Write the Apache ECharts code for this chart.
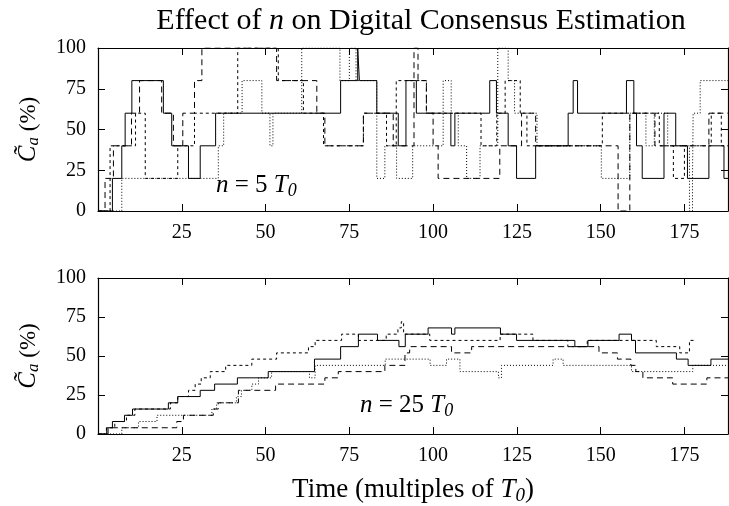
<!DOCTYPE html>
<html>
<head>
<meta charset="utf-8">
<script src="https://cdn.jsdelivr.net/npm/echarts@6/dist/echarts.min.js"></script>
<style>
  html, body { margin: 0; padding: 0; background: #fff; }
  #chart { width: 729px; height: 506px; }
</style>
</head>
<body>
<div id="chart"></div>
<script>
// Consensus estimate over time, n = 5 T0 (top) and n = 25 T0 (bottom)
const xTicks = [25, 50, 75, 100, 125, 150, 175];
const yTicks = [0, 25, 50, 75, 100];

// n = 5 T0
const topSolid = [[0,0],[4.3,20],[7.1,40],[8.1,60],[10.1,80],[19.5,60],[22,40],[27,20],[30.5,40],[35.1,60],[72.4,80],[77.5,100],[78,80],[83.2,60],[89.6,40],[91.9,80],[95,60],[105.3,40],[106.5,60],[116.9,80],[118.9,60],[122.4,40],[124.9,20],[130.6,40],[140.3,60],[141.8,80],[143.1,60],[157.7,80],[159.9,60],[160.7,40],[162.4,20],[168.9,60],[172.4,40],[175.9,20],[182.3,40],[186.8,20],[188,20]];
const topLongDash = [[0,0],[2.1,20],[4.6,40],[10,60],[12.4,80],[19,60],[22.5,40],[25.3,60],[28.8,80],[31,100],[53.3,80],[65.3,60],[67.7,40],[79.2,60],[88.1,40],[94.3,100],[95.5,80],[98,60],[100,40],[101.5,20],[119.9,40],[126.4,60],[130.6,40],[155.2,0],[158.7,60],[166.2,40],[182.3,60],[188,60]];
const topShortDash = [[0,0],[3.6,40],[11.2,60],[13,60],[14.1,20],[22.3,20],[23.8,40],[28.8,60],[41.7,100],[53.8,80],[61.3,60],[67.3,40],[79.2,60],[86.1,40],[89,80],[95.5,80],[98,60],[114.3,40],[119,60],[121.5,80],[126,60],[128,40],[150.5,60],[165,60],[167.5,40],[171.7,20],[175,40],[183,60],[186,40],[188,40]];
const topDotted = [[0,0],[7.1,20],[35.9,40],[37.5,60],[43,80],[48.9,60],[51.3,40],[52.2,60],[60.8,100],[72.2,80],[75,100],[77,80],[83.2,20],[85.6,40],[89.1,20],[93.9,40],[103,80],[105.4,60],[107.5,40],[110,20],[114,40],[119.3,100],[122.4,80],[124.3,60],[131,40],[150.2,20],[158.7,60],[163.5,40],[166,60],[170,40],[176.5,0],[177.4,20],[177.6,60],[179.7,80],[188,80]];

// n = 25 T0
const botSolid = [[0,0],[2.6,4],[4.3,8],[7.9,12],[10.3,16],[21,20],[23.8,24],[30.5,28],[34.8,32],[41.6,36],[50.8,40],[64.6,48],[72.4,56],[77.7,64],[83.4,60],[89.8,56],[91.7,64],[98.5,68],[105.5,64],[106.5,68],[120.1,64],[124.9,60],[142.3,56],[146.2,60],[155.5,64],[159.2,60],[160.4,52],[172.6,48],[176.1,44],[182.9,48],[188,48]];
const botLongDash = [[0,0],[3,4],[23.5,8],[25.5,12],[34.4,16],[35.9,20],[41.9,28],[53,32],[67.7,36],[71.7,40],[85.6,44],[91.6,52],[93,56],[105.5,52],[111.5,56],[140,56],[149.5,52],[155,48],[159,44],[160.5,40],[162.6,36],[171.5,32],[181.7,36],[188,36]];
const botShortDash = [[0,0],[2.5,4],[5,8],[8.5,12],[11,16],[21.6,20],[23.8,24],[27,28],[29,32],[30.8,36],[33.5,40],[38.1,44],[45.9,48],[53.3,52],[62.8,56],[64.8,60],[72.7,64],[77.7,60],[86,64],[89.5,68],[90.5,72],[91.2,64],[99,60],[120,64],[129.8,60],[140.2,56],[146,60],[166.6,56],[173.6,52],[176.5,60],[178.6,60]];
const botDotted = [[0,0],[7.1,4],[12.1,8],[17.6,12],[34,16],[35.4,20],[41.3,24],[42.8,28],[45.9,32],[47.9,36],[51.8,40],[63.1,36],[64.8,44],[85.7,48],[99.1,44],[104,48],[108,40],[119.5,36],[120.4,44],[135.8,48],[138.8,44],[159.2,40],[177.5,44],[188,44]];

const SERIF = "'Liberation Serif', 'Times New Roman', serif";
const X_MAX = 188;

const chart = echarts.init(document.getElementById('chart'), null, { renderer: 'canvas' });

const frameLine = { show: true, onZero: false, lineStyle: { color: '#000', width: 1.2 } };
const inTick = { show: true, inside: true, length: 7, lineStyle: { color: '#000', width: 1 } };

function xAxisPair(gridIndex, withName) {
  const bottom = {
    type: 'value', gridIndex, position: 'bottom', min: 0, max: X_MAX, interval: 25,
    axisLine: frameLine, axisTick: inTick, splitLine: { show: false },
    axisLabel: {
      show: true, margin: 12, fontFamily: SERIF, fontSize: 20, color: '#000',
      showMinLabel: false, showMaxLabel: false,
      formatter: v => (xTicks.indexOf(v) >= 0 ? String(v) : '')
    }
  };
  if (withName) {
    bottom.name = 'Time (multiples of {i|T}{s|0})';
    bottom.nameLocation = 'middle';
    bottom.nameGap = 40;
    bottom.nameTextStyle = {
      fontFamily: SERIF, fontSize: 27, color: '#000',
      rich: {
        i: { fontFamily: SERIF, fontSize: 27, fontStyle: 'italic', color: '#000' },
        s: { fontFamily: SERIF, fontSize: 19, fontStyle: 'italic', color: '#000', verticalAlign: 'bottom', padding: [12, 0, 0, 0] }
      }
    };
  }
  const top = {
    type: 'value', gridIndex, position: 'top', min: 0, max: X_MAX, interval: 25,
    axisLine: frameLine, axisTick: inTick, axisLabel: { show: false }, splitLine: { show: false }
  };
  return [bottom, top];
}

function yAxisPair(gridIndex) {
  const left = {
    type: 'value', gridIndex, position: 'left', min: 0, max: 100, interval: 25,
    axisLine: frameLine, axisTick: inTick, splitLine: { show: false },
    axisLabel: { show: true, margin: 12, fontFamily: SERIF, fontSize: 20, color: '#000' },
    name: '{c|C\u0303}{s|a} (%)',
    nameLocation: 'middle', nameRotate: 90, nameGap: 56,
    nameTextStyle: {
      fontFamily: SERIF, fontSize: 23, color: '#000',
      rich: {
        c: { fontFamily: SERIF, fontSize: 25, fontStyle: 'italic', color: '#000' },
        s: { fontFamily: SERIF, fontSize: 17, fontStyle: 'italic', color: '#000', verticalAlign: 'bottom', padding: [10, 0, 0, 0] }
      }
    }
  };
  const right = {
    type: 'value', gridIndex, position: 'right', min: 0, max: 100, interval: 25,
    axisLine: frameLine, axisTick: inTick, axisLabel: { show: false }, splitLine: { show: false }
  };
  return [left, right];
}

function stepSeries(data, xi, yi, dash) {
  return {
    type: 'line', data, xAxisIndex: xi, yAxisIndex: yi, step: 'end',
    showSymbol: false, symbol: 'none', animation: false, silent: true,
    lineStyle: { color: '#000', width: 1, type: dash }
  };
}

const LONG = [6, 4], SHORT = [3, 3], DOT = [1, 2];

const richLabel = {
  i: { fontFamily: SERIF, fontSize: 25, fontStyle: 'italic', fill: '#000' },
  n: { fontFamily: SERIF, fontSize: 25, fill: '#000' },
  s: { fontFamily: SERIF, fontSize: 18, fontStyle: 'italic', fill: '#000', padding: [12, 0, 0, 0] }
};

chart.setOption({
  animation: false,
  backgroundColor: '#fff',
  title: {
    text: 'Effect of {i|n} on Digital Consensus Estimation',
    left: 416, top: 1, textAlign: 'center',
    textStyle: {
      fontFamily: SERIF, fontSize: 30, fontWeight: 'normal', color: '#000',
      rich: { i: { fontFamily: SERIF, fontSize: 30, fontStyle: 'italic', color: '#000' } }
    }
  },
  grid: [
    { left: 98, top: 48, width: 630, height: 163 },
    { left: 98, top: 278, width: 630, height: 158 }
  ],
  xAxis: [...xAxisPair(0, false), ...xAxisPair(1, true)],
  yAxis: [...yAxisPair(0), ...yAxisPair(1)],
  series: [
    stepSeries(topDotted, 0, 0, DOT),
    stepSeries(topShortDash, 0, 0, SHORT),
    stepSeries(topLongDash, 0, 0, LONG),
    stepSeries(topSolid, 0, 0, 'solid'),
    stepSeries(botDotted, 2, 2, DOT),
    stepSeries(botShortDash, 2, 2, SHORT),
    stepSeries(botLongDash, 2, 2, LONG),
    stepSeries(botSolid, 2, 2, 'solid')
  ],
  graphic: [
    { type: 'text', left: 216, top: 173, style: { text: '{i|n}{n| = 5 }{i|T}{s|0}', rich: richLabel } },
    { type: 'text', left: 360, top: 393, style: { text: '{i|n}{n| = 25 }{i|T}{s|0}', rich: richLabel } }
  ]
});
</script>
</body>
</html>
